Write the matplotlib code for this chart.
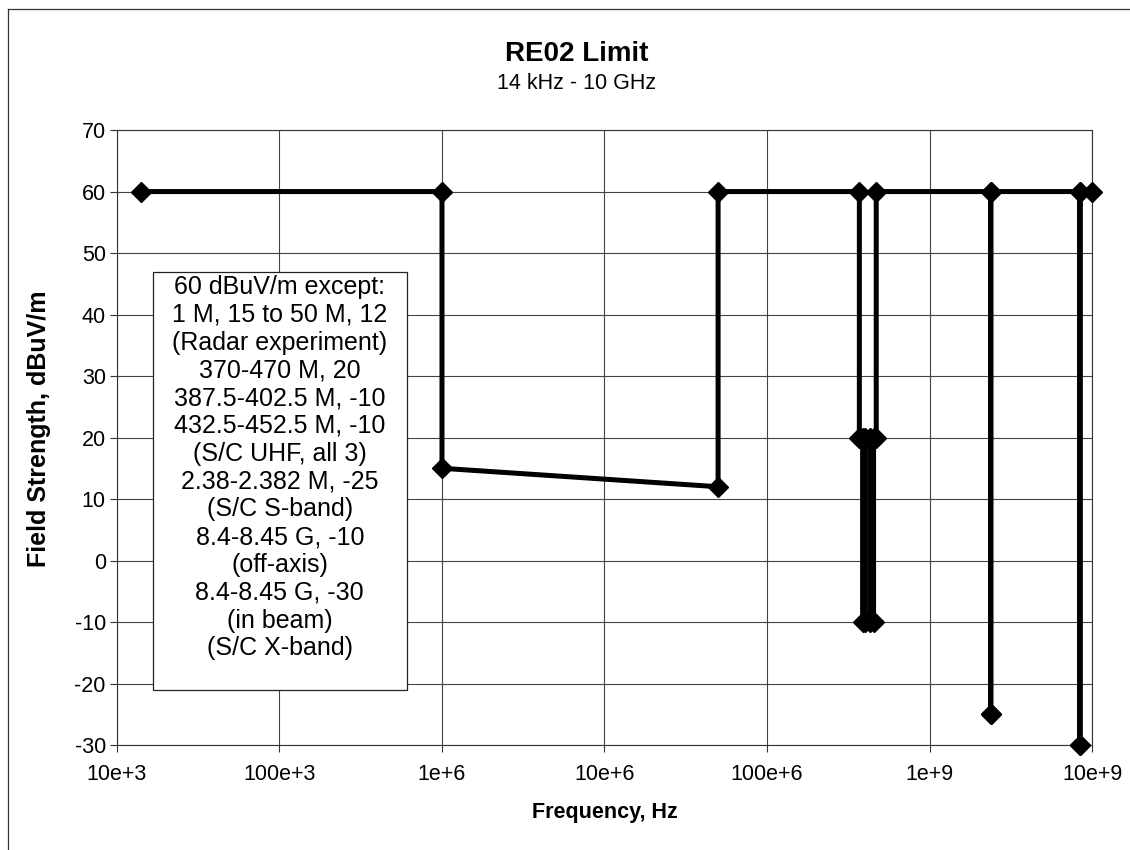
import matplotlib
matplotlib.use("Agg")
import matplotlib.pyplot as plt
from matplotlib.lines import Line2D
from matplotlib.patches import Rectangle
from matplotlib.ticker import NullLocator

plt.rcParams['font.family'] = ['Liberation Sans', 'DejaVu Sans']
plt.rcParams['axes.unicode_minus'] = False

# RE02 limit mask: frequency (Hz) vs field strength (dBuV/m), in drawing order
freq_hz = [14e3, 1e6, 1e6, 50e6, 50e6,
           370e6, 370e6, 387.5e6, 387.5e6, 402.5e6, 402.5e6,
           432.5e6, 432.5e6, 452.5e6, 452.5e6, 470e6, 470e6,
           2.38e9, 2.38e9, 2.382e9, 2.382e9,
           8.4e9, 8.4e9, 8.45e9, 8.45e9, 10e9]
level_db = [60, 60, 15, 12, 60,
            60, 20, 20, -10, -10, 20,
            20, -10, -10, 20, 20, 60,
            60, -25, -25, 60,
            60, -30, -30, 60, 60]

x_ticks = [1e4, 1e5, 1e6, 1e7, 1e8, 1e9, 1e10]
x_tick_labels = ["10e+3", "100e+3", "1e+6", "10e+6", "100e+6", "1e+9", "10e+9"]
y_ticks = list(range(-30, 71, 10))

note_lines = [
    "60 dBuV/m except:",
    "1 M, 15 to 50 M, 12",
    "(Radar experiment)",
    "370-470 M, 20",
    "387.5-402.5 M, -10",
    "432.5-452.5 M, -10",
    "(S/C UHF, all 3)",
    "2.38-2.382 M, -25",
    "(S/C S-band)",
    "8.4-8.45 G, -10",
    "(off-axis)",
    "8.4-8.45 G, -30",
    "(in beam)",
    "(S/C X-band)",
]

fig = plt.figure(figsize=(11.3, 8.5), dpi=100)
ax = fig.add_axes([0.1035, 0.1235, 0.8629, 0.7235])

ax.plot(freq_hz, level_db, color='black', lw=3.6, marker='D',
        markersize=10, markerfacecolor='black', markeredgecolor='black',
        zorder=5, clip_on=False)

ax.set_xscale('log')
ax.set_xlim(1e4, 1e10)
ax.set_ylim(-30, 70)
ax.set_xticks(x_ticks)
ax.set_xticklabels(x_tick_labels)
ax.xaxis.set_minor_locator(NullLocator())
ax.set_yticks(y_ticks)
ax.set_yticklabels([str(v) for v in y_ticks])
ax.tick_params(axis='both', labelsize=15.5, direction='out', length=5,
               width=0.8, color='#333333')
ax.tick_params(axis='x', pad=9)
ax.tick_params(axis='y', pad=3)

ax.grid(True, which='major', color='#444444', lw=0.8)
ax.set_axisbelow(True)
for sp in ax.spines.values():
    sp.set_color('#333333')
    sp.set_linewidth(0.8)

ax.set_xlabel("Frequency, Hz", fontsize=15.5, fontweight='bold', labelpad=12)
ax.set_ylabel("Field Strength, dBuV/m", fontsize=18, fontweight='bold')
ax.yaxis.set_label_coords(-0.068, 0.515)

fig.text(0.51, 0.936, "RE02 Limit", ha='center', va='center',
         fontsize=20, fontweight='bold')
fig.text(0.51, 0.902, "14 kHz - 10 GHz", ha='center', va='center', fontsize=15.5)

# note box with the exception bands
box = Rectangle((0.037, 0.089), 0.26, 0.68, transform=ax.transAxes,
                facecolor='white', edgecolor='#222222', lw=0.9, zorder=3)
ax.add_patch(box)
ax.text(0.167, 0.451, "\n".join(note_lines), transform=ax.transAxes,
        ha='center', va='center', fontsize=18, linespacing=1.2, zorder=4)

# chart area frame
fig.add_artist(Line2D([8 / 1130, 1.0], [1 - 9 / 850, 1 - 9 / 850],
                      transform=fig.transFigure, color='#333333', lw=0.9))
fig.add_artist(Line2D([8 / 1130, 8 / 1130], [0.0, 1 - 9 / 850],
                      transform=fig.transFigure, color='#333333', lw=0.9))

fig.savefig("out.png", dpi=100)
